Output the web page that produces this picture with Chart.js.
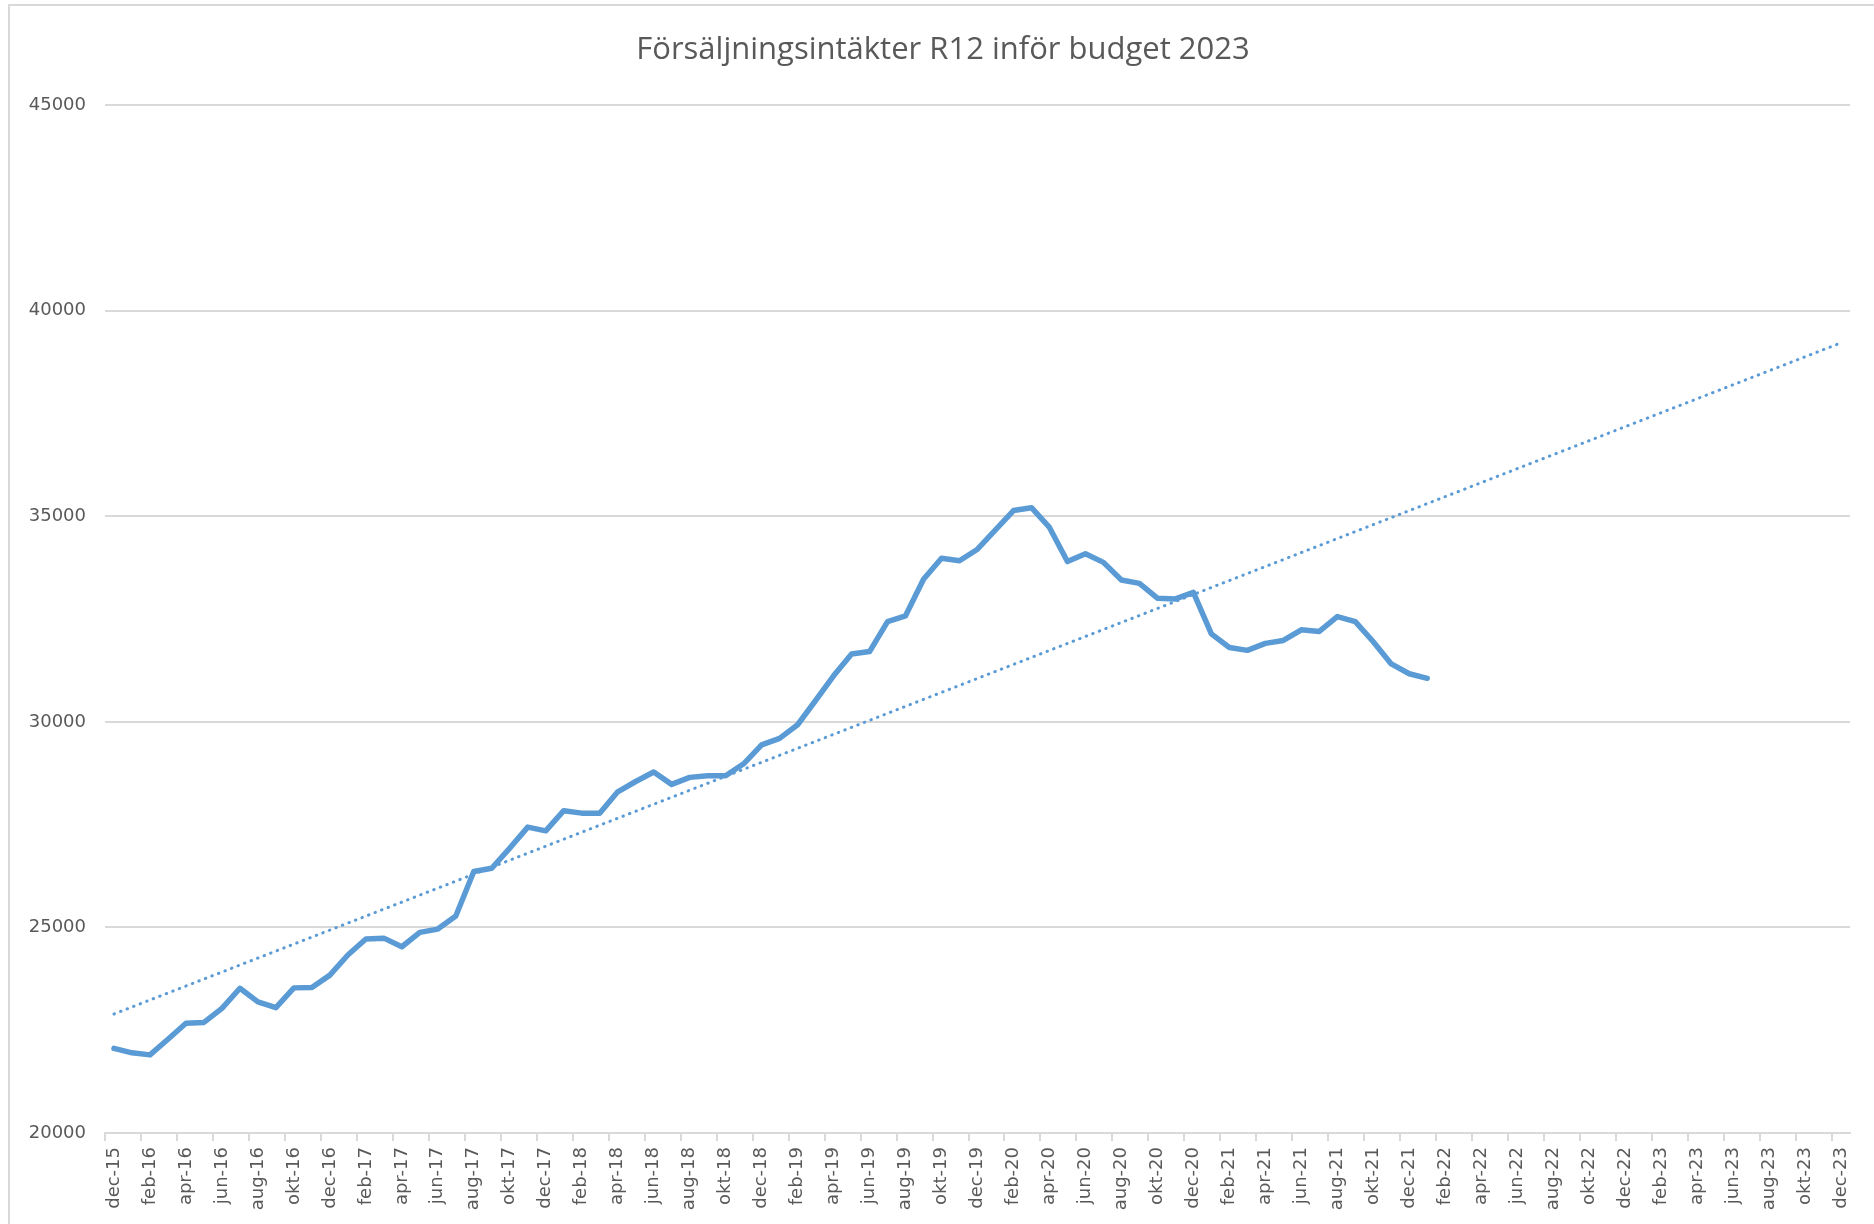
<!DOCTYPE html>
<html>
<head>
<meta charset="utf-8">
<script src="https://cdn.jsdelivr.net/npm/chart.js@4.4.1/dist/chart.umd.min.js"></script>
<style>
  html, body { margin: 0; padding: 0; background: #ffffff; }
  #wrap { width: 1874px; height: 1224px; position: relative; }
</style>
</head>
<body>
<div id="wrap"><canvas id="c" width="1874" height="1224"></canvas></div>
<script>
// ---- Data ----
const chartTitle = 'Försäljningsintäkter R12 inför budget 2023';
const monthNames = ['jan','feb','mar','apr','maj','jun','jul','aug','sep','okt','nov','dec'];
const firstYear = 15, lastYear = 23; // axis runs dec-15 .. dec-23

// R12 sales, monthly from dec-15 to jan-22
const salesR12 = [
  22060, 21950, 21900, 22280, 22670, 22690, 23030, 23520, 23190, 23050,
  23530, 23540, 23840, 24330, 24720, 24740, 24530, 24880, 24960, 25280,
  26360, 26440, 26930, 27440, 27350, 27840, 27780, 27780, 28300, 28550,
  28780, 28480, 28650, 28690, 28690, 28980, 29440, 29600, 29930, 30520,
  31120, 31650, 31710, 32440, 32580, 33470, 33980, 33920, 34200, 34670,
  35140, 35210, 34730, 33900, 34090, 33880, 33450, 33370, 33010, 32990,
  33150, 32140, 31810, 31740, 31910, 31980, 32240, 32200, 32560, 32440,
  31950, 31410, 31170, 31060
];

// Linear trend line: value at dec-15 and at dec-23
const trendStart = 22895;
const trendEnd = 39220;

const yTicks = { min: 20000, max: 45000, step: 5000 };

// ---- Build category labels ----
const labels = [];
labels.push('dec-' + firstYear);
for (let y = firstYear + 1; y <= lastYear; y++) {
  for (const m of monthNames) labels.push(m + '-' + y);
}

const salesData = labels.map((_, i) => i < salesR12.length ? salesR12[i] : null);
const trendData = labels.map((_, i) => i === 0 ? trendStart : (i === labels.length - 1 ? trendEnd : null));

const lineColor = '#5b9bd5';

const borderPlugin = {
  id: 'outerBorder',
  beforeDraw(chart) {
    const ctx = chart.ctx;
    ctx.save();
    ctx.fillStyle = '#ffffff';
    ctx.fillRect(0, 0, chart.width, chart.height);
    ctx.strokeStyle = '#d9d9d9';
    ctx.lineWidth = 2;
    ctx.strokeRect(9, 5, chart.width + 20, chart.height + 20);
    ctx.restore();
  }
};

new Chart(document.getElementById('c'), {
  type: 'line',
  data: {
    labels: labels,
    datasets: [
      {
        label: 'Försäljningsintäkter R12',
        data: salesData,
        borderColor: lineColor,
        backgroundColor: lineColor,
        borderWidth: 5.5,
        pointRadius: 0,
        tension: 0,
        borderJoinStyle: 'round',
        borderCapStyle: 'round',
        spanGaps: false
      },
      {
        label: 'Linjär trend',
        data: trendData,
        borderColor: lineColor,
        backgroundColor: lineColor,
        borderWidth: 3,
        borderDash: [0.5, 6.5],
        borderCapStyle: 'round',
        pointRadius: 0,
        tension: 0,
        spanGaps: true
      }
    ]
  },
  options: {
    responsive: false,
    animation: false,
    devicePixelRatio: 1,
    layout: { padding: { left: 36, right: 24, top: 0, bottom: 0 } },
    plugins: {
      legend: { display: false },
      tooltip: { enabled: false },
      title: {
        display: true,
        text: chartTitle,
        color: '#595959',
        font: { family: 'Open Sans', size: 31, weight: 'normal', lineHeight: 1.2 },
        padding: { top: 32, bottom: 36 }
      }
    },
    scales: {
      x: {
        type: 'category',
        offset: true,
        afterFit(scale) { scale.height = 91; },
        border: { display: true, color: '#d9d9d9', width: 2 },
        grid: {
          offset: true,
          drawOnChartArea: false,
          drawTicks: true,
          tickLength: 8,
          lineWidth: 2,
          color: (ctx) => (ctx.index % 2 === 0 ? '#d9d9d9' : 'rgba(0,0,0,0)')
        },
        ticks: {
          autoSkip: false,
          minRotation: 90,
          maxRotation: 90,
          padding: 6,
          color: '#595959',
          font: { family: 'DejaVu Sans', size: 18 },
          callback(value, index) { return index % 2 === 0 ? this.getLabelForValue(value) : ''; }
        }
      },
      y: {
        min: yTicks.min,
        max: yTicks.max,
        afterFit(scale) {
          scale.width = 69;
          // let tick labels extend left of the axis box without being clipped
          scale._computeLabelArea = () => undefined;
        },
        border: { display: false },
        grid: { color: '#d9d9d9', lineWidth: 2, drawTicks: false },
        ticks: {
          stepSize: yTicks.step,
          padding: 19,
          color: '#595959',
          font: { family: 'DejaVu Sans', size: 18 },
          callback(value) { return String(value); }
        }
      }
    }
  },
  plugins: [borderPlugin]
});
</script>
</body>
</html>
